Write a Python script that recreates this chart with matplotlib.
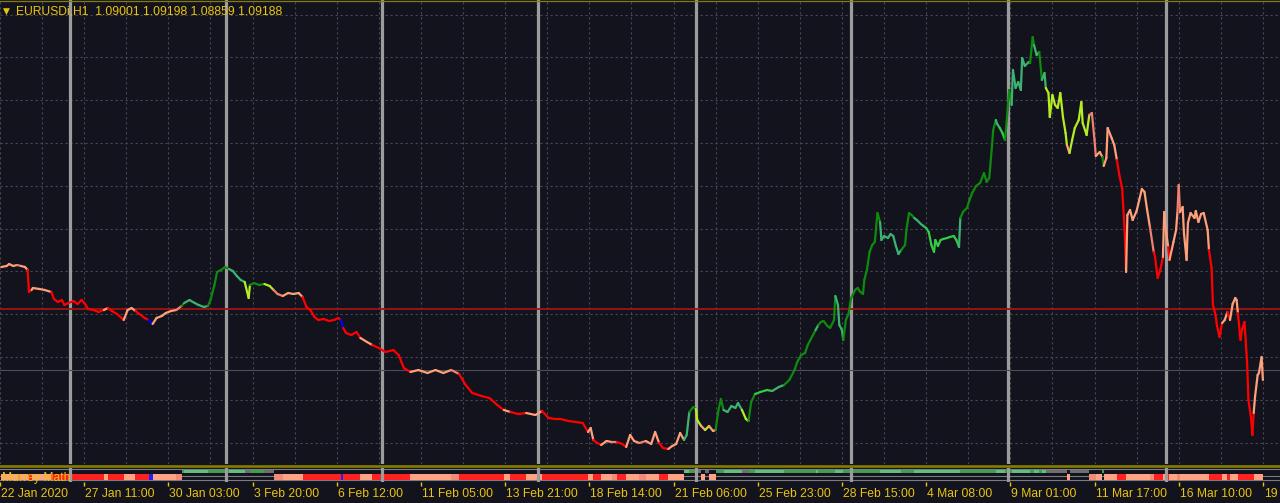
import numpy as np
import matplotlib
matplotlib.use("Agg")
import matplotlib.pyplot as plt
import matplotlib.transforms as mtransforms
from matplotlib.collections import LineCollection
from matplotlib.lines import Line2D

# =================================================
# DATOS  (EURUSDi H1, cierre por barra)
# =================================================
bars = [
    # 22 Jan - 3 Feb
    0, 4, 6, 9, 12, 15, 18, 20, 21, 23, 24, 29, 33, 38, 40, 43, 46, 48, 51, 55,
    58, 61, 63, 66, 70, 74, 78, 81, 84, 88, 93, 96, 99, 102, 105, 109, 112, 115, 118, 122,
    125, 129, 133, 137, 139, 143, 147, 150, 154, 157, 159, 162, 164, 167, 170, 173, 176, 179, 182, 185,
    188, 189, 192, 196, 200, 204, 207, 210, 214, 218, 222, 226, 229, 232, 235, 238, 241, 245, 249, 253,
    256, 258, 260, 262, 266,
    # 6 Feb - 18 Feb
    270, 273, 278, 282, 287, 292, 298, 302, 306, 311, 317, 324, 330, 336, 342, 348, 353, 358, 365, 371,
    377, 382, 387, 393, 399, 406, 411, 416, 421,
    # 18 Feb - 25 Feb
    425, 431, 437, 442, 446, 448, 450, 453, 456, 460, 464, 468, 472, 475, 478, 481, 485, 490, 494, 497,
    500, 503, 507, 510, 513, 516, 519, 521, 523, 526, 528, 529, 532, 535, 538, 541, 543, 545, 547, 549,
    552, 555, 558, 560, 563, 566, 568, 570, 573, 577,
    582, 586, 591, 595, 599, 603, 605,
    # 28 Feb - 6 Mar
    608, 611, 613, 617, 619, 621, 623, 625, 628, 630, 633, 634, 636, 637, 639, 640, 642, 644, 646, 649,
    651, 653, 655, 656, 658, 660, 662, 664, 666, 668, 669, 671, 674, 676, 678, 680, 682, 684, 687, 688,
    690, 692, 694, 696, 699, 701, 703, 705, 707, 709, 710, 712, 714, 716, 719, 721, 724, 726, 728, 729,
    731, 734, 736, 738, 741, 744, 747, 749, 751,
    # 9 Mar - 11 Mar
    753, 754, 756, 757, 759, 761, 763, 765, 766, 768, 769, 771, 773, 775, 776, 778, 781, 782, 784, 785,
    787, 789, 791, 793, 794, 796, 797, 799, 801, 803, 805, 807, 809, 810, 812, 814, 816, 819, 821, 822,
    825, 827, 829, 831, 832, 835, 837, 838, 840, 841, 844, 846, 848, 850, 852,
    # 11 Mar - 19 Mar
    854, 855, 856, 858, 860, 863, 865, 867, 869, 871, 873, 876, 877, 879, 881, 883, 884, 885, 887, 888,
    891, 893, 894, 895, 896, 898, 899, 901, 902, 904, 907, 908, 910, 912, 914, 917, 918, 920, 921, 923,
    924, 926, 928, 930, 932, 934, 936, 938, 939, 940, 942, 943, 945, 947, 948, 950, 951, 952, 953, 955,
    956, 958, 959,
]

closes = [
    1.1126, 1.1128, 1.1132, 1.1128, 1.1130, 1.1128, 1.1126, 1.1120, 1.1076, 1.1080,
    1.1084, 1.1082, 1.1080, 1.1076, 1.1062, 1.1056, 1.1060, 1.1050, 1.1054, 1.1058,
    1.1052, 1.1060, 1.1054, 1.1042, 1.1040, 1.1036, 1.1040, 1.1044, 1.1038, 1.1032,
    1.1020, 1.1040, 1.1044, 1.1038, 1.1032, 1.1024, 1.1020, 1.1012, 1.1024, 1.1028,
    1.1034, 1.1038, 1.1040, 1.1048, 1.1054, 1.1060, 1.1054, 1.1050, 1.1046, 1.1048,
    1.1060, 1.1090, 1.1116, 1.1120, 1.1126, 1.1122, 1.1118, 1.1108, 1.1100, 1.1096,
    1.1064, 1.1090, 1.1094, 1.1090, 1.1092, 1.1088, 1.1080, 1.1072, 1.1068, 1.1074,
    1.1072, 1.1074, 1.1066, 1.1046, 1.1040, 1.1026, 1.1020, 1.1022, 1.1018, 1.1020,
    1.1024, 1.1020, 1.1004, 1.0994, 1.0990,
    1.0996, 1.0984, 1.0976, 1.0970, 1.0964, 1.0956, 1.0960, 1.0950, 1.0924, 1.0916,
    1.0920, 1.0914, 1.0920, 1.0914, 1.0920, 1.0912, 1.0890, 1.0874, 1.0868, 1.0864,
    1.0850, 1.0840, 1.0836, 1.0832, 1.0834, 1.0830, 1.0838, 1.0824, 1.0822,
    1.0822, 1.0818, 1.0816, 1.0814, 1.0796, 1.0804, 1.0780, 1.0774, 1.0770, 1.0778,
    1.0776, 1.0776, 1.0772, 1.0766, 1.0790, 1.0778, 1.0774, 1.0778, 1.0772, 1.0796,
    1.0774, 1.0764, 1.0762, 1.0768, 1.0772, 1.0794, 1.0780, 1.0790, 1.0836, 1.0846,
    1.0842, 1.0820, 1.0808, 1.0800, 1.0808, 1.0798, 1.0800, 1.0838, 1.0862, 1.0840,
    1.0836, 1.0848, 1.0844, 1.0854, 1.0840, 1.0822, 1.0818, 1.0856, 1.0872, 1.0876,
    1.0880, 1.0878, 1.0886, 1.0890, 1.0900, 1.0920, 1.0936,
    1.0950, 1.0954, 1.0970, 1.0990, 1.1000, 1.1010, 1.1016, 1.1018, 1.1008, 1.1004,
    1.1020, 1.1068, 1.1050, 1.1010, 1.1000, 1.0980, 1.1020, 1.1032, 1.1064, 1.1080,
    1.1084, 1.1076, 1.1072, 1.1100, 1.1120, 1.1156, 1.1170, 1.1176, 1.1234, 1.1216,
    1.1180, 1.1188, 1.1184, 1.1192, 1.1188, 1.1168, 1.1152, 1.1160, 1.1170, 1.1200,
    1.1234, 1.1230, 1.1224, 1.1220, 1.1212, 1.1208, 1.1204, 1.1196, 1.1170, 1.1156,
    1.1180, 1.1168, 1.1180, 1.1182, 1.1184, 1.1186, 1.1188, 1.1180, 1.1166, 1.1224,
    1.1236, 1.1244, 1.1260, 1.1274, 1.1288, 1.1294, 1.1314, 1.1296, 1.1304,
    1.1366, 1.1400, 1.1420, 1.1412, 1.1404, 1.1394, 1.1380, 1.1440, 1.1480, 1.1450,
    1.1520, 1.1484, 1.1496, 1.1480, 1.1544, 1.1528, 1.1536, 1.1534, 1.1586, 1.1570,
    1.1550, 1.1556, 1.1500, 1.1514, 1.1484, 1.1474, 1.1426, 1.1470, 1.1450, 1.1444,
    1.1474, 1.1426, 1.1394, 1.1370, 1.1354, 1.1380, 1.1404, 1.1420, 1.1456, 1.1414,
    1.1390, 1.1430, 1.1434, 1.1380, 1.1348, 1.1356, 1.1346, 1.1328, 1.1344, 1.1404,
    1.1384, 1.1370, 1.1340, 1.1308, 1.1284,
    1.1194, 1.1116, 1.1230, 1.1240, 1.1220, 1.1238, 1.1260, 1.1282, 1.1276, 1.1240,
    1.1208, 1.1156, 1.1146, 1.1104, 1.1120, 1.1146, 1.1236, 1.1204, 1.1166, 1.1140,
    1.1176, 1.1200, 1.1234, 1.1290, 1.1236, 1.1246, 1.1194, 1.1140, 1.1214, 1.1234,
    1.1224, 1.1238, 1.1216, 1.1232, 1.1234, 1.1200, 1.1160, 1.1124, 1.1050, 1.1030,
    1.1010, 1.0986, 1.1014, 1.1020, 1.1036, 1.1020, 1.1052, 1.1064, 1.1060, 1.1034,
    1.0980, 1.1000, 1.1016, 1.0934, 1.0860, 1.0824, 1.0790, 1.0834, 1.0866, 1.0910,
    1.0914, 1.0946, 1.0900,
]

# color de cada tramo: R rojo, L salmon claro, S salmon, G verde oscuro,
# M verde medio, B verde claro, Y amarillo-verde, U azul
tones = (
    "LLLLLSLL RR LLLL RRRRRRRRRRRRR L RRR LLL RRR U LLLLL S G MMMMM GGGGGG MMMM YY GGG YY SS LLLL "
    "RRRRRRRRR U RR "
    "RRLLRRRRRRLLLLLSRRRRRRLRRLLRR "
    "RRRRRLLRRLLSRRLLLSLLLRRLLLLMMGGYYLYLLGGGMMMMMYYGGB "
    "BBMMGGG "
    "GGGGG M GGGGGG MMMM GGGGGGGGGGGGGG MMMMMMMM GGGGG MMMM BBBBBBBBBBBB M GGGGGGGGG "
    "GGGMMBBGGG MMMMMMMMGG MMGMMYYYYY YYYYLYYYYY YYSSSLLGLL LLLRR "
    "RRLLLLLLLL LSRRRRLLLR LLLSSLLLLL LLLLLLLRRR RRRLLRLLLL RRRRRRRRLL LLL"
).replace(" ", "")

week_bars = [52, 171, 289, 408, 528, 646, 765, 885]
tick_bars = [-1, 63, 127, 191, 255, 319, 383, 447, 511, 575, 639, 703, 767, 831, 895, 959]
# la ultima etiqueta queda cortada por el borde en el original: solo se ve "19"
tick_labels = ["22 Jan 2020", "27 Jan 11:00", "30 Jan 03:00", "3 Feb 20:00", "6 Feb 12:00",
               "11 Feb 05:00", "13 Feb 21:00", "18 Feb 14:00", "21 Feb 06:00", "25 Feb 23:00",
               "28 Feb 15:00", "4 Mar 08:00", "9 Mar 01:00", "11 Mar 17:00", "16 Mar 10:00",
               "19"]
red_level = 1.1042
bid_level = 1.0920
titulo = "EURUSDi,H1  1.09001 1.09198 1.08859 1.09188"

assert len(bars) == len(closes) == len(tones)

# =================================================
# ESTILO
# =================================================
BG = "#13131e"
GOLD = "#eac40e"
OLIVE = "#857d00"
GRID = "#474756"
SEP = "#9c9c9c"
FONT = "Liberation Sans"
tone_colors = {"R": "#ff0000", "L": "#ffa07a", "S": "#f2806e", "G": "#0e8a0e",
               "M": "#3cb371", "B": "#33cc44", "Y": "#b4ee22", "U": "#0000ff"}

H = 503.0
def fy(px):
    return 1 - px / H

fig = plt.figure(figsize=(12.8, 5.03), dpi=100, facecolor=BG)

# ---- ventana principal ----
ax = fig.add_axes([0, fy(464), 1, 464 / H])
ax.set_facecolor(BG)
ax.set_xlim(0, 972)
ax.set_ylim(1.0732, 1.1660)
for s in ax.spines.values():
    s.set_visible(False)
ax.set_xticks(np.arange(-1, 972, 32))
ax.set_yticks(1.16308 - 0.00856 * np.arange(11))
ax.tick_params(length=0, labelbottom=False, labelleft=False)
ax.set_axisbelow(True)
ax.grid(True, color=GRID, lw=0.8, ls=(0, (2, 2.5)))

for b in week_bars:
    ax.axvline(b, color=SEP, lw=2.3, zorder=1)
ax.axhline(red_level, color="#a01414", lw=1.3, zorder=1)
ax.axhline(bid_level, color="#4c4c58", lw=0.8, zorder=1)

pts = np.column_stack([bars, closes])
segs = np.stack([pts[:-1], pts[1:]], axis=1)
lc = LineCollection(segs, colors=[tone_colors[t] for t in tones[1:]], lw=1.6,
                    capstyle="round", joinstyle="round", zorder=3)
ax.add_collection(lc)

# ---- ventana del indicador ----
ind = fig.add_axes([0, fy(481.5), 1, 13.8 / H])
ind.set_facecolor(BG)
ind.set_xlim(0, 972)
ind.set_ylim(0, 1)
for s in ind.spines.values():
    s.set_visible(False)
ind.set_yticks([])
ind.set_xticks(tick_bars)
ind.tick_params(axis="x", direction="out", length=3, width=1, color=GOLD, labelbottom=False)

for yy in (0.11, 0.40, 0.87):
    ind.axhline(yy, color="#7c7c84", lw=0.8, zorder=1)

ind_colors = {"R": "#ff2020", "L": "#ffa385", "S": "#f28a78", "U": "#2020ff",
              "G": "#3f9f4f", "M": "#62c07e", "B": "#62c07e", "Y": "#6e6e6e"}
widths = np.diff(bars)
lower = [t in "RLSU" for t in tones[1:]]
ind.bar(bars[:-1], [0.40 if lo else 0.27 for lo in lower], width=widths,
        bottom=[0.14 if lo else 0.58 for lo in lower], align="edge",
        color=[ind_colors[t] for t in tones[1:]], lw=0, zorder=2)
for b in week_bars:
    ind.axvline(b, color=SEP, lw=2.3, zorder=3)

# ---- textos ----
trans = mtransforms.blended_transform_factory(ind.transData, fig.transFigure)
for b, lab in zip(tick_bars, tick_labels):
    ind.text(b + 0.8, fy(496.7), lab, transform=trans, ha="left", va="baseline",
             color=GOLD, fontsize=8.7, family=FONT, clip_on=False)

fig.text(3 / 1280, fy(13.5), "\u25bc", color=GOLD, fontsize=6.5, family="DejaVu Sans", va="baseline")
fig.text(16 / 1280, fy(15), titulo, color=GOLD, fontsize=8.7, family=FONT, va="baseline")
fig.text(2 / 1280, fy(480.5), "Murrey Math", color=GOLD, fontsize=8.7, family=FONT,
         va="baseline", zorder=10)

fig.add_artist(Line2D([0, 1], [fy(0.6), fy(0.6)], transform=fig.transFigure, color=OLIVE, lw=0.9))
fig.add_artist(Line2D([0, 1], [fy(466.3), fy(466.3)], transform=fig.transFigure, color=OLIVE, lw=1.9))

fig.savefig("out.png", dpi=100, facecolor=BG)
